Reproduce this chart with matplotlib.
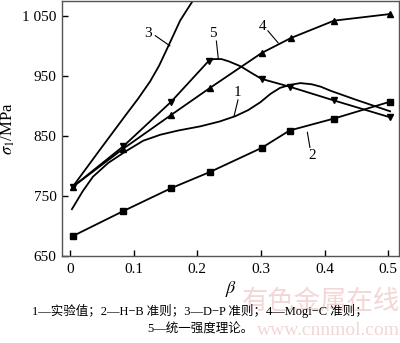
import matplotlib.pyplot as plt

plt.rcParams['font.family'] = ['Liberation Serif', 'Noto Sans CJK SC']
plt.rcParams['mathtext.fontset'] = 'stix'

# 1 实验值 (无标记)
beta_1 = [0.003, 0.02, 0.036, 0.06, 0.087, 0.115, 0.142, 0.17, 0.205, 0.235,
          0.26, 0.28, 0.299, 0.315, 0.33, 0.346, 0.362, 0.38, 0.394, 0.41,
          0.45, 0.503]
sigma_1 = [728, 758, 782, 805, 824, 842, 852, 859, 866, 874,
           883, 893, 906, 920, 930, 935, 938, 936, 932, 925,
           910, 891]

# 2 H-B 准则
beta_2 = [0.004, 0.084, 0.159, 0.22, 0.301, 0.345, 0.415, 0.503]
sigma_2 = [683, 725, 763, 790, 830, 859, 879, 907]

# 3 D-P 准则
beta_3 = [0.004, 0.047, 0.087, 0.107, 0.126, 0.14, 0.152, 0.163, 0.173, 0.185, 0.196]
sigma_3 = [765, 827, 884, 912, 941, 967, 994, 1019, 1042, 1062, 1080]

# 4 Mogi-C 准则
beta_4 = [0.004, 0.084, 0.159, 0.22, 0.301, 0.347, 0.415, 0.503]
sigma_4 = [765, 829, 885, 930, 988, 1013, 1042, 1053]

# 5 统一强度理论 (峰值附近加了几个无标记点)
beta_5 = [0.004, 0.084, 0.159, 0.218, 0.226, 0.238, 0.25, 0.268, 0.285,
          0.301, 0.345, 0.415, 0.503]
sigma_5 = [765, 833, 907, 975, 978, 978, 974, 966, 955,
           945, 932, 909, 881]
marks_5 = [0, 1, 2, 3, 9, 10, 11, 12]

x_ticks = [0, 0.1, 0.2, 0.3, 0.4, 0.5]
x_labels = ['0', '0.1', '0.2', '0.3', '0.4', '0.5']
y_ticks = [650, 750, 850, 950, 1050]
y_labels = ['650', '750', '850', '950', '1 050']

fig = plt.figure(figsize=(4.0, 3.43), dpi=100)
ax = fig.add_axes([0.155, 0.2536, 0.8425, 0.744])

lw = 1.3
ax.plot(beta_1, sigma_1, color='black', lw=lw)
ax.plot(beta_2, sigma_2, color='black', lw=lw, marker='s', ms=4.5)
ax.plot(beta_3, sigma_3, color='black', lw=lw)
ax.plot(beta_4, sigma_4, color='black', lw=lw, marker='^', ms=4.5)
ax.plot(beta_5, sigma_5, color='black', lw=lw, marker='v', ms=4.5, markevery=marks_5)

ax.set_xlim(-0.0126, 0.517)
ax.set_ylim(650, 1075)
ax.set_xticks(x_ticks)
ax.set_xticklabels(x_labels)
ax.set_yticks(y_ticks)
ax.set_yticklabels(y_labels)
ax.tick_params(direction='in', length=4, width=1, labelsize=11, colors='black')
ax.tick_params(axis='x', pad=5)
ax.tick_params(axis='y', pad=4)
for s in ax.spines.values():
    s.set_linewidth(1.0)
    s.set_color('#555555')

ax.set_xlabel(r'$\beta$', fontsize=13, labelpad=2)
ax.set_ylabel(r'$\sigma_1$/MPa', fontsize=12, labelpad=4)

# 曲线编号及引线
labels = [
    ('1', 0.263, 922, (0.264, 910), (0.258, 884)),
    ('2', 0.380, 817, (0.373, 856), (0.377, 831)),
    ('3', 0.123, 1020, (0.134, 1017), (0.157, 1000)),
    ('4', 0.303, 1033, (0.311, 1025), (0.327, 1005)),
    ('5', 0.225, 1020, (0.230, 1008), (0.233, 979)),
]
for txt, tx, ty, p0, p1 in labels:
    ax.text(tx, ty, txt, fontsize=11, ha='center', va='center')
    ax.plot([p0[0], p1[0]], [p0[1], p1[1]], color='black', lw=0.8)

# 水印
fig.text(0.605, 0.12, '有色金属在线', fontsize=19, color='#f3d6d6',
         ha='left', va='center', zorder=0)
fig.text(0.82, 0.035, 'www.cnnmol.com', fontsize=14, color='#f3d6d6',
         ha='center', va='center', zorder=0)

fig.text(0.5, 0.093, '1—实验值；2—H−B 准则；3—D−P 准则；4—Mogi−C 准则；',
         fontsize=9, ha='center', va='center')
fig.text(0.5, 0.038, '5—统一强度理论。', fontsize=9, ha='center', va='center')

fig.savefig('out.png', dpi=100)
